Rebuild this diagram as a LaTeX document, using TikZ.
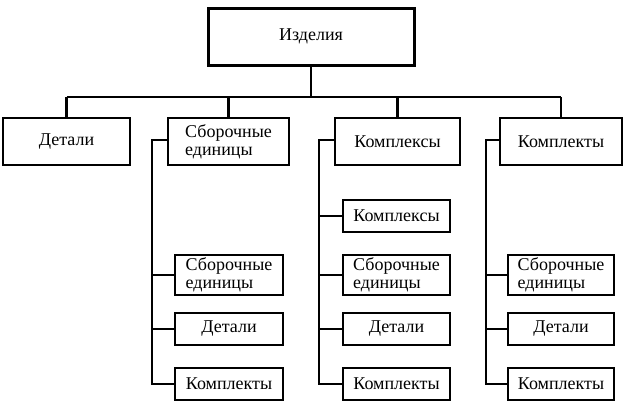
\documentclass[tikz,border=0pt]{standalone}
\usepackage{fontspec}
\setmainfont{Liberation Serif}
\begin{document}
\begin{tikzpicture}[x=1pt,y=-1pt,line width=2.8pt,
  bx/.style={draw,minimum width=#1,inner sep=0pt,font=\fontsize{18}{18}\selectfont,align=left},
  ln/.style={line width=2.4pt}]
\useasboundingbox (0,0) rectangle (626,408);
\node[bx=206pt,minimum height=57pt,line width=3pt] (top) at (311,36.5) {Изделия};
\node[bx=127pt,minimum height=47pt] (d) at (66.5,141.5) {Детали};
\node[bx=121pt,minimum height=47pt] (s) at (228.5,141.5) {Сборочные\\единицы};
\node[bx=125pt,minimum height=47pt] (k) at (397.5,141.5) {Комплексы};
\node[bx=122pt,minimum height=47pt] (t) at (561,141.5) {Комплекты};
\coordinate (hl) at (66.5,97); \coordinate (hr) at (561,97);
\draw[ln] (top.south) -- (311,97);
\draw[ln] (hl) -- (hr);
\foreach \n in {d,s,k,t} \draw[ln] (\n.north |- hl) -- (\n.north);
% column 1
\node[bx=108pt,minimum height=40pt] (s1) at (229,275) {Сборочные\\единицы};
\node[bx=108pt,minimum height=32pt] (s2) at (229,329) {Детали};
\node[bx=108pt,minimum height=32pt] (s3) at (229,384) {Комплекты};
\coordinate (c1) at (152,140);
\draw[ln] (s.west |- c1) -- (c1) -- (152,384) -- (s3.west);
\draw[ln] (152,275) -- (s1.west); \draw[ln] (152,329) -- (s2.west);
% column 2
\node[bx=107pt,minimum height=32pt] (k0) at (396.5,216) {Комплексы};
\node[bx=107pt,minimum height=40pt] (k1) at (396.5,275) {Сборочные\\единицы};
\node[bx=107pt,minimum height=32pt] (k2) at (396.5,329) {Детали};
\node[bx=107pt,minimum height=32pt] (k3) at (396.5,384) {Комплекты};
\coordinate (c2) at (319,140);
\draw[ln] (k.west |- c2) -- (c2) -- (319,384) -- (k3.west);
\draw[ln] (319,216) -- (k0.west); \draw[ln] (319,275) -- (k1.west); \draw[ln] (319,329) -- (k2.west);
% column 3
\node[bx=106pt,minimum height=40pt] (t1) at (561,275) {Сборочные\\единицы};
\node[bx=106pt,minimum height=32pt] (t2) at (561,329) {Детали};
\node[bx=106pt,minimum height=32pt] (t3) at (561,384) {Комплекты};
\coordinate (c3) at (486,140);
\draw[ln] (t.west |- c3) -- (c3) -- (486,384) -- (t3.west);
\draw[ln] (486,275) -- (t1.west); \draw[ln] (486,329) -- (t2.west);
\end{tikzpicture}
\end{document}
